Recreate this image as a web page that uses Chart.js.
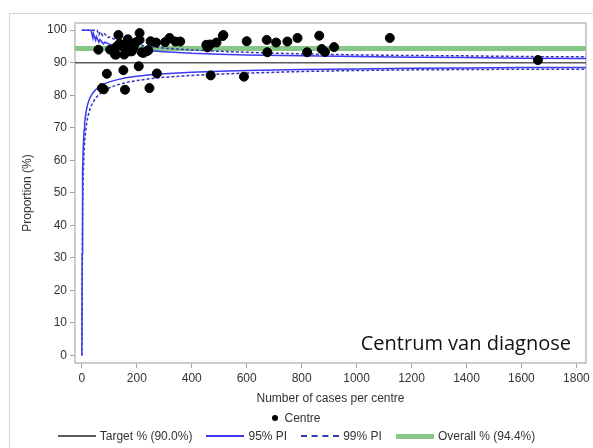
<!DOCTYPE html>
<html>
<head>
<meta charset="utf-8">
<title>Funnel plot - Centrum van diagnose</title>
<script src="https://cdn.jsdelivr.net/npm/chart.js@4.4.1/dist/chart.umd.min.js"></script>
<style>
  html, body { margin: 0; padding: 0; background: #fff; overflow: hidden; }
  #wrap { position: relative; width: 593px; height: 448px; }
  #frame { position: absolute; left: 9px; top: 13px; width: 700px; height: 600px;
           border-left: 1px solid #d6d6d6; border-top: 1px solid #d6d6d6; }
  canvas { position: absolute; left: 0; top: 0; }
  .note { position: absolute; right: 22px; top: 333px; font: 20px "Open Sans"; line-height: 20px; color: #111; }
  .legend { position: absolute; left: 0; width: 593px; display: flex; justify-content: center;
            align-items: center; font: 12px "Liberation Sans", Arial, sans-serif; color: #333; }
  .legend .sw { display: inline-block; width: 38px; margin-right: 4px; }
  .legend .item { display: flex; align-items: center; margin: 0 7px; }
  .dot { width: 6px; height: 6px; border-radius: 50%; background: #000; margin-right: 6px; }
</style>
</head>
<body>
<div id="wrap">
  <div id="frame"></div>
  <canvas id="canvas" width="593" height="448"></canvas>
  <div class="note">Centrum van diagnose</div>
  <div class="legend" style="top:411px;height:14px;">
    <span class="item"><span class="dot"></span>Centre</span>
  </div>
  <div class="legend" style="top:429px;height:14px;">
    <span class="item"><span class="sw" style="border-top:2px solid #5a5a5a"></span>Target % (90.0%)</span>
    <span class="item"><span class="sw" style="border-top:2px solid #3a3af0"></span>95% PI</span>
    <span class="item"><span class="sw" style="border-top:2px dashed #3636b8"></span>99% PI</span>
    <span class="item"><span class="sw" style="border-top:5px solid #86c686"></span>Overall % (94.4%)</span>
  </div>
</div>
<script>
// centres: number of cases and proportion (%)
const centreCases = [73, 80, 91, 60, 103, 115, 121, 125, 133, 127, 137, 140, 149, 151, 157, 154,
  167, 170, 176, 182, 188, 190, 197, 210, 210, 207, 218, 224, 236, 242, 246, 250, 270, 273,
  303, 319, 340, 358, 453, 457, 467, 469, 490, 513, 515, 590, 600, 673, 675, 707, 748, 785,
  820, 864, 873, 885, 918, 1121, 1660];
const centrePct = [82.2, 81.8, 86.6, 94.0, 94.0, 93.8, 92.5, 92.5, 98.5, 95.0, 95.8, 95.5, 95.0, 87.7, 81.7, 92.5,
  97.2, 94.5, 93.5, 93.5, 94.8, 95.5, 96.3, 99.1, 97.0, 88.9, 93.2, 93.0, 93.5, 93.8, 82.2, 96.6, 96.2, 86.7,
  96.3, 97.6, 96.5, 96.5, 95.5, 94.7, 95.6, 86.1, 96.2, 98.2, 98.5, 85.7, 96.6, 97.0, 93.2, 96.2, 96.5, 97.6,
  93.2, 98.3, 94.2, 93.3, 94.8, 97.6, 90.8];

// prediction limits
const lowerCases = [0, 1, 2, 3, 5, 8, 10, 15, 20, 25, 30, 40, 50, 60, 80, 100, 130, 160, 200, 250,
  300, 400, 500, 600, 800, 1000, 1200, 1400, 1600, 1800, 1835];
const lower95 = [0, 31.2, 48.4, 56.1, 63.7, 69.2, 71.4, 74.8, 76.9, 78.2, 79.3, 80.7, 81.7, 82.4, 83.4, 84.1,
  84.8, 85.4, 85.8, 86.3, 86.6, 87.1, 87.4, 87.6, 87.9, 88.1, 88.3, 88.4, 88.5, 88.5, 88.5];
const lower99 = [0, 12.7, 35.4, 45.4, 55.4, 62.7, 65.6, 70.0, 72.7, 74.5, 75.9, 77.8, 79.1, 80.0, 81.4, 82.3,
  83.2, 83.9, 84.5, 85.1, 85.5, 86.1, 86.5, 86.8, 87.3, 87.6, 87.8, 87.9, 88.0, 88.0, 88.0];
const upper95Cases = [0, 33, 40, 42, 50, 53, 62, 66, 78, 84, 100, 130, 160, 200, 250, 300, 400, 500, 600,
  800, 1000, 1200, 1400, 1600, 1800, 1835];
const upper95 = [100, 100, 97.6, 99.0, 96.9, 98.0, 96.3, 97.1, 95.8, 96.3, 95.7, 95.2, 94.6, 94.2, 93.7,
  93.4, 92.9, 92.6, 92.4, 92.1, 91.9, 91.7, 91.6, 91.4, 91.3, 91.3];
const upper99Cases = [0, 55, 62, 66, 76, 82, 95, 100, 130, 160, 200, 250, 300, 400, 500, 600, 800, 1000,
  1200, 1400, 1600, 1800, 1835];
const upper99 = [100, 100, 98.6, 99.5, 98.3, 98.9, 97.8, 97.9, 96.8, 96.1, 95.5, 94.9, 94.5, 93.9, 93.5,
  93.2, 92.7, 92.4, 92.2, 92.1, 91.9, 91.8, 91.8];

const targetPct = 90.0;
const overallPct = 94.4;

const xTicks = [0, 200, 400, 600, 800, 1000, 1200, 1400, 1600, 1800];
const yTicks = [0, 10, 20, 30, 40, 50, 60, 70, 80, 90, 100];
const X_MIN = -25, X_MAX = 1835;

const pairs = (xs, ys) => xs.map((x, i) => ({ x: x, y: ys[i] }));
const flat = v => [{ x: X_MIN, y: v }, { x: X_MAX, y: v }];

const lineSet = (data, color, width, dash) => ({
  data: data, showLine: true, borderColor: color, borderWidth: width,
  borderDash: dash || [], pointRadius: 0, tension: 0, fill: false
});

// grey box around the plot area
const plotFrame = {
  id: 'plotFrame',
  beforeDatasetsDraw(chart) {
    const { ctx, chartArea: a } = chart;
    ctx.save();
    ctx.strokeStyle = '#bdbdbd';
    ctx.lineWidth = 1.5;
    ctx.strokeRect(a.left, a.top, a.right - a.left, a.bottom - a.top);
    ctx.restore();
  }
};

const tickFont = { family: '"Liberation Sans", Arial, sans-serif', size: 12 };

new Chart(document.getElementById('canvas'), {
  type: 'scatter',
  data: {
    datasets: [
      { data: pairs(centreCases, centrePct), backgroundColor: '#000', borderColor: '#000',
        pointRadius: 4.5, pointHoverRadius: 4.5 },
      lineSet(pairs(upper95Cases, upper95), '#3a3af0', 1.5),
      lineSet(pairs(lowerCases, lower95), '#3a3af0', 1.5),
      lineSet(pairs(upper99Cases, upper99), '#3636b8', 1.5, [3, 2]),
      lineSet(pairs(lowerCases, lower99), '#3636b8', 1.5, [3, 2]),
      lineSet(flat(targetPct), '#5a5a5a', 1.5),
      lineSet(flat(overallPct), '#86c686', 5)
    ]
  },
  options: {
    responsive: false,
    animation: false,
    layout: { padding: { top: 23, right: 7, left: 0, bottom: 40 } },
    plugins: { legend: { display: false }, tooltip: { enabled: false } },
    scales: {
      x: {
        type: 'linear', min: X_MIN, max: X_MAX,
        afterBuildTicks: s => { s.ticks = xTicks.map(v => ({ value: v })); },
        afterFit: s => { s.height = 45; },
        grid: { drawOnChartArea: false, drawTicks: true, tickLength: 5, color: '#a0a0a0' },
        border: { display: false },
        ticks: { font: tickFont, color: '#333', padding: 3, maxRotation: 0, callback: v => String(v) },
        title: { display: true, text: 'Number of cases per centre', font: tickFont, color: '#333',
                 padding: { top: 0, bottom: 2 } }
      },
      y: {
        type: 'linear', min: -2.3, max: 102.2,
        afterBuildTicks: s => { s.ticks = yTicks.map(v => ({ value: v })); },
        afterFit: s => { s.width = 75; },
        grid: { drawOnChartArea: false, drawTicks: true, tickLength: 5, color: '#a0a0a0' },
        border: { display: false },
        ticks: { font: tickFont, color: '#333', padding: 3, callback: v => String(v) },
        title: { display: true, text: 'Proportion (%)', font: tickFont, color: '#333',
                 padding: { top: 20, bottom: 0 } }
      }
    }
  },
  plugins: [plotFrame]
});
</script>
</body>
</html>
